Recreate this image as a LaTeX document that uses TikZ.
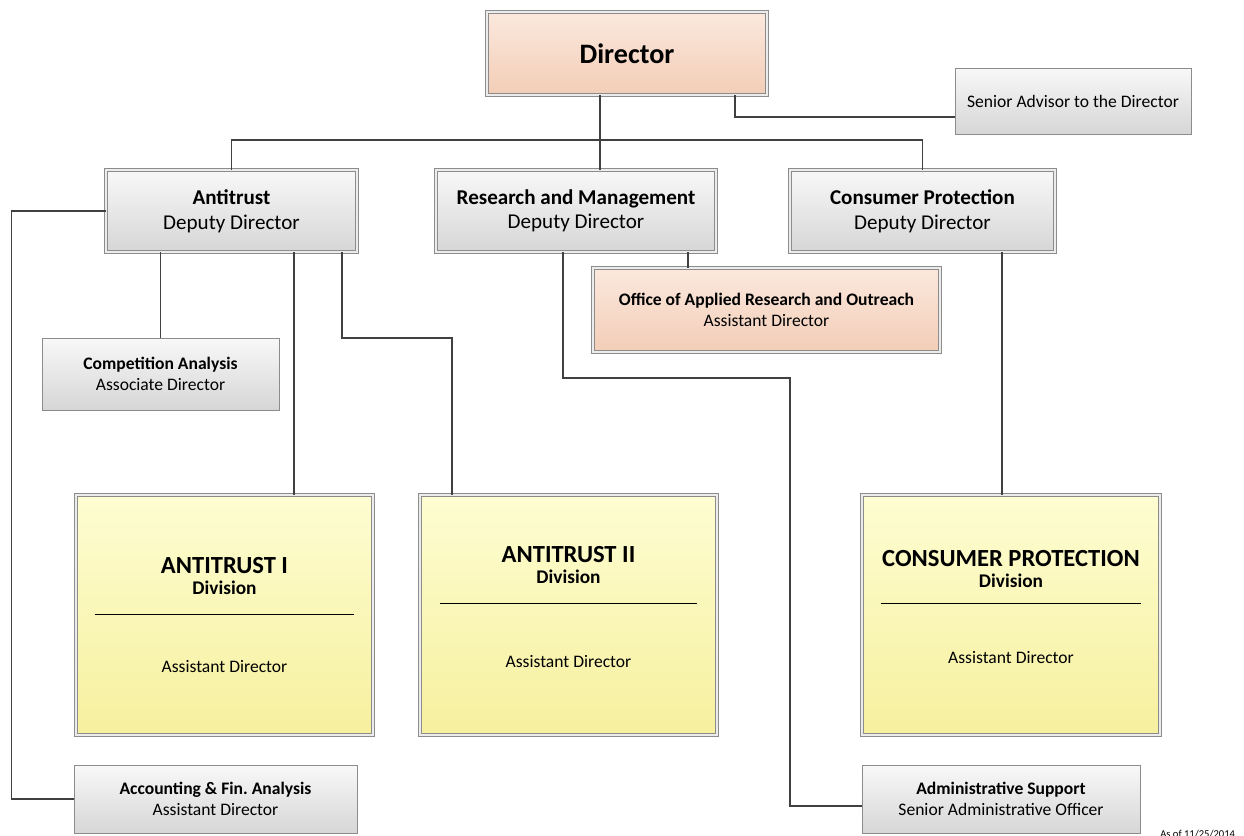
\documentclass[tikz,border=0pt]{standalone}
\usepackage{fontspec}
\setmainfont{Carlito}
\usepackage{tikz}
\usetikzlibrary{positioning, shadows, calc}

\definecolor{lineGray}{HTML}{404040}
\definecolor{boxEdge}{HTML}{8C8C8C}
\definecolor{grayTop}{HTML}{F8F8F8}
\definecolor{grayBot}{HTML}{D6D6D6}
\definecolor{peachTop}{HTML}{FBE8DD}
\definecolor{peachBot}{HTML}{F3CDB7}
\definecolor{yellowTop}{HTML}{FEFDD2}
\definecolor{yellowBot}{HTML}{F6F09E}

\begin{document}
\begin{tikzpicture}[
  x=0.02cm, y=-0.02cm,
  % single-edged boxes with a grey gradient
  plainbox/.style  = {draw=boxEdge, line width=0.5pt, top color=grayTop,
                      bottom color=grayBot, align=center, inner sep=2pt,
                      drop shadow={shadow xshift=0.8pt, shadow yshift=-0.8pt,
                                   opacity=0.3, fill=gray}},
  % double-edged boxes
  dblbox/.style    = {plainbox, draw=boxEdge, double=white!85!gray,
                      double distance=1.1pt, line width=0.45pt},
  peach/.style     = {top color=peachTop, bottom color=peachBot},
  yellowbox/.style = {dblbox, top color=yellowTop, bottom color=yellowBot},
  link/.style      = {draw=lineGray, line width=0.75pt},
  big/.style       = {font=\fontsize{16}{19}\selectfont},
  mid/.style       = {font=\fontsize{12}{14}\selectfont},
  sml/.style       = {font=\fontsize{10}{12}\selectfont},
  div/.style       = {font=\fontsize{10}{12}\selectfont},
]
\useasboundingbox (0,0) rectangle (1244,835);

% ── Top level ─────────────────────────────────────────────────────────────────
\node[dblbox, peach, big, minimum width=5.6cm, minimum height=1.66cm]
      (director) at (627,53.5) {\textbf{Director}};

\node[plainbox, sml, minimum width=4.72cm, minimum height=1.32cm]
      (advisor) at (1073,101) {Senior Advisor to the Director};

% ── Deputy directors ──────────────────────────────────────────────────────────
\node[dblbox, mid, minimum width=5.02cm, minimum height=1.64cm]
      (antitrust) at (231.5,211) {\textbf{Antitrust}\\Deputy Director};
\node[dblbox, mid, minimum width=5.6cm, minimum height=1.64cm]
      (research) at (576,211) {\textbf{Research and Management}\\Deputy Director};
\node[dblbox, mid, minimum width=5.3cm, minimum height=1.64cm]
      (consumer) at (922.5,211) {\textbf{Consumer Protection}\\Deputy Director};

\node[dblbox, peach, sml, minimum width=6.94cm, minimum height=1.68cm]
      (outreach) at (766.5,310)
      {\textbf{Office of Applied Research and Outreach}\\Assistant Director};

\node[plainbox, sml, minimum width=4.74cm, minimum height=1.44cm]
      (competition) at (160.5,374)
      {\textbf{Competition Analysis}\\Associate Director};

% ── Divisions ─────────────────────────────────────────────────────────────────
\node[yellowbox, div, minimum width=5.94cm, minimum height=4.8cm]
      (atone) at (224.5,615)
      {{\fontsize{14}{16}\selectfont\textbf{ANTITRUST I}}\\
       {\fontsize{11}{13}\selectfont\textbf{Division}}\\[-1pt]
       \rule{5.2cm}{0.4pt}\\[21pt]
       Assistant Director};
\node[yellowbox, div, minimum width=5.94cm, minimum height=4.8cm]
      (attwo) at (568.5,615)
      {\\[-28pt]{\fontsize{14}{16}\selectfont\textbf{ANTITRUST II}}\\
       {\fontsize{11}{13}\selectfont\textbf{Division}}\\[0pt]
       \rule{5.16cm}{0.9pt}\\[24pt]
       Assistant Director};
\node[yellowbox, div, minimum width=5.96cm, minimum height=4.8cm]
      (cpdiv) at (1011,615)
      {\\[-12pt]{\fontsize{14}{16}\selectfont\textbf{CONSUMER PROTECTION}}\\
       {\fontsize{11}{13}\selectfont\textbf{Division}}\\[-3pt]
       \rule{5.2cm}{0.4pt}\\[22pt]
       Assistant Director};

% ── Support offices ───────────────────────────────────────────────────────────
\node[plainbox, sml, minimum width=5.66cm, minimum height=1.36cm]
      (accounting) at (215.5,799)
      {\textbf{Accounting \& Fin.\ Analysis}\\Assistant Director};
\node[plainbox, sml, minimum width=5.56cm, minimum height=1.36cm]
      (admin) at (1001,799)
      {\textbf{Administrative Support}\\Senior Administrative Officer};

\node[font=\fontsize{6}{7}\selectfont, anchor=north west, inner sep=0pt]
      (asof) at (1160,830) {As of 11/25/2014};

% ── Connectors ────────────────────────────────────────────────────────────────
\coordinate (bus) at (600,140);
\draw[link] (director.south -| bus) -- (bus);
\draw[link] (antitrust.north) |- (bus) -| (consumer.north);
\draw[link] (bus) -- (research.north -| bus);
\draw[link] ([xshift=2.16cm]director.south) |- ([yshift=-0.32cm]advisor.west);

\draw[link] (antitrust.south -| competition) -- (competition.north);
\draw[link] ([xshift=1.25cm]antitrust.south)
            -- ([xshift=1.25cm]antitrust.south |- atone.north);
\coordinate (attwobend) at (452,338);
\draw[link] ([xshift=2.21cm]antitrust.south) |- (attwobend)
            -- (attwobend |- attwo.north);
\draw[link] (antitrust.west) -- ++(-1.88cm,0) |- (accounting.west);

\draw[link] ([xshift=2.24cm]research.south)
            -- ([xshift=2.24cm]research.south |- outreach.north);
\coordinate (adminbend) at (790,378);
\draw[link] ([xshift=-0.26cm]research.south) |- (adminbend)
            |- ([yshift=-0.14cm]admin.west);

\draw[link] ([xshift=1.59cm]consumer.south)
            -- ([xshift=1.59cm]consumer.south |- cpdiv.north);

\end{tikzpicture}
\end{document}
